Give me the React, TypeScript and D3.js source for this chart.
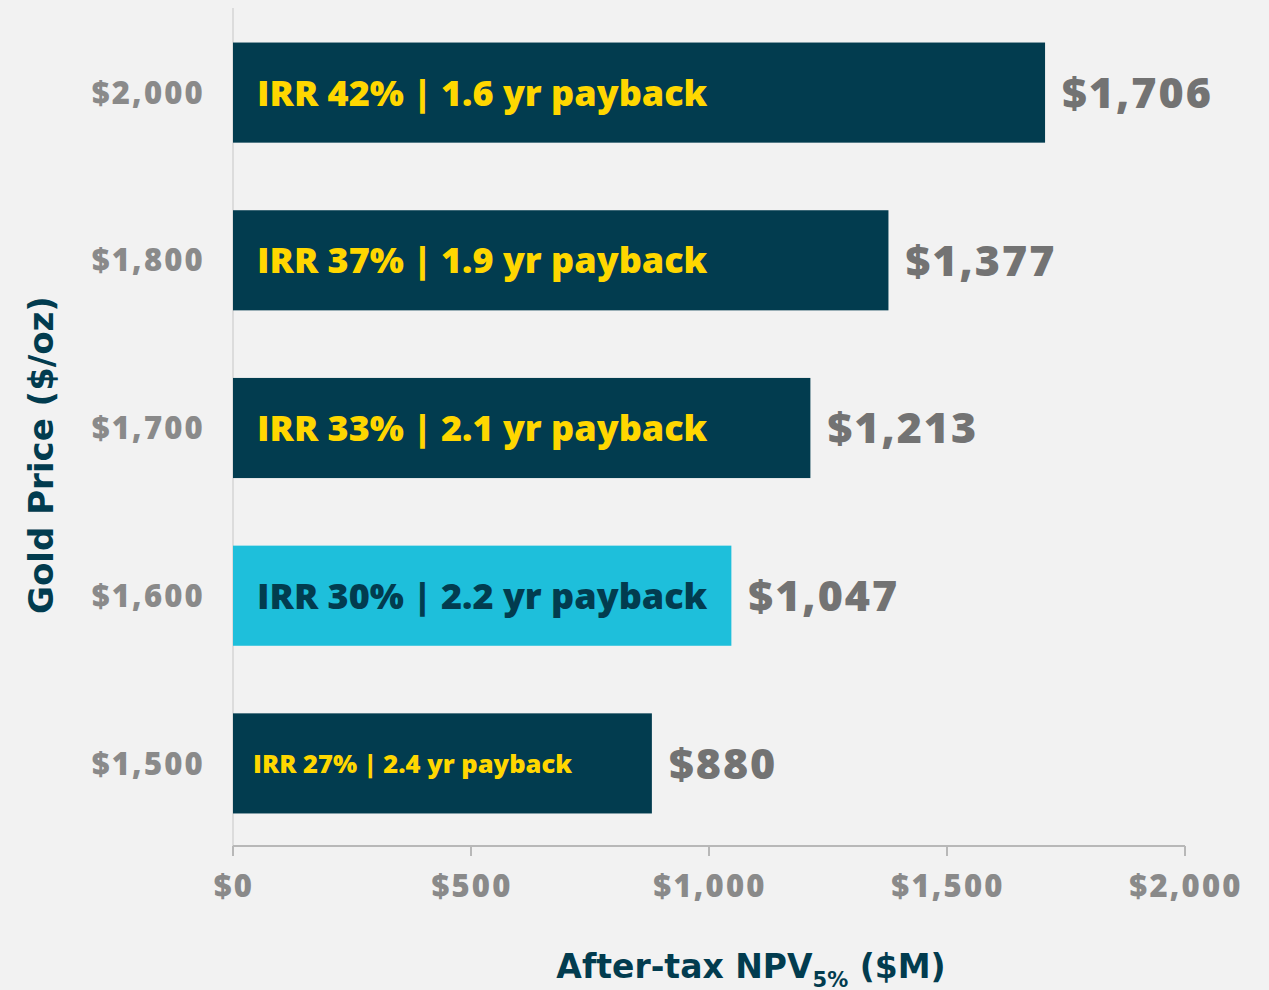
import React from "react";
import * as d3 from "d3";

const prices = ["$1,500", "$1,600", "$1,700", "$1,800", "$2,000"];
const npv = [880, 1047, 1213, 1377, 1706];
const irr = [27, 30, 33, 37, 42];
const payback = [2.4, 2.2, 2.1, 1.9, 1.6];
const highlight = ["$1,600"];
const xTicks = [0, 500, 1000, 1500, 2000];

const W = 1269;
const H = 990;
const margin = { left: 233, right: 84, top: 8, bottom: 144 };

export default function App() {
  const x = d3.scaleLinear().domain([0, 2000]).range([margin.left, W - margin.right]);
  const order = [...prices].reverse();
  const y = d3
    .scaleBand()
    .domain(order)
    .range([margin.top + 1, H - margin.bottom + 1])
    .paddingInner(0.403)
    .paddingOuter(0.2);
  const axisY = H - margin.bottom;
  const fmt = (v: number) => "$" + d3.format(",")(v);
  const labelFont = "'Open Sans', 'Noto Sans', sans-serif";
  const titleFont = "'DejaVu Sans', 'Liberation Sans', sans-serif";
  return (
    <svg width={W} height={H} style={{ position: "absolute", left: 0, top: 0, background: "#f2f2f2" }}>
      <rect x={0} y={0} width={W} height={H} fill="#f2f2f2" />
      <line x1={x(0)} x2={x(0)} y1={margin.top} y2={axisY} stroke="#dcdcdc" strokeWidth={2} />
      {prices.map((p, i) => {
        const by = y(p)!;
        const bh = y.bandwidth();
        const hi = highlight.includes(p);
        const small = i === 0;
        return (
          <g key={p}>
            <rect x={x(0)} y={by} width={x(npv[i]) - x(0)} height={bh} fill={hi ? "#1ebfdb" : "#023c4f"} />
            <text
              x={x(0) + (small ? 20 : 24)}
              y={by + bh / 2}
              dy="0.36em"
              fill={hi ? "#023c4f" : "#ffd700"}
              fontFamily={labelFont}
              fontWeight={800}
              fontSize={small ? 25.5 : 36}
            >
              {`IRR ${irr[i]}% | ${payback[i].toFixed(1)} yr payback`}
            </text>
            <text
              x={x(npv[i]) + 17}
              y={by + bh / 2}
              dy="0.36em"
              fill="#737373"
              fontFamily={labelFont}
              fontWeight={800}
              fontSize={43}
              letterSpacing={2}
            >
              {fmt(npv[i])}
            </text>
            <text
              x={x(0) - 28}
              y={by + bh / 2}
              dy="0.36em"
              textAnchor="end"
              fill="#8a8a8a"
              fontFamily={labelFont}
              fontWeight={800}
              fontSize={31}
              letterSpacing={2.2}
            >
              {p}
            </text>
          </g>
        );
      })}
      <line x1={x(0)} x2={x(2000)} y1={axisY} y2={axisY} stroke="#b8b8b8" strokeWidth={2} />
      {xTicks.map((t) => (
        <g key={t}>
          <line x1={x(t)} x2={x(t)} y1={axisY} y2={axisY + 10} stroke="#b8b8b8" strokeWidth={2} />
          <text
            x={x(t) + 1}
            y={axisY + 40}
            dy="0.36em"
            textAnchor="middle"
            fill="#8a8a8a"
            fontFamily={labelFont}
            fontWeight={800}
            fontSize={31}
            letterSpacing={2.2}
          >
            {fmt(t)}
          </text>
        </g>
      ))}
      <text
        x={751}
        y={978}
        textAnchor="middle"
        fill="#023c4f"
        fontFamily={titleFont}
        fontWeight={700}
        fontSize={33}
      >
        After-tax NPV
        <tspan fontSize={21} dy={9}>5%</tspan>
        <tspan dy={-9}> ($M)</tspan>
      </text>
      <text
        transform={`translate(53, 455) rotate(-90)`}
        textAnchor="middle"
        fill="#023c4f"
        fontFamily={titleFont}
        fontWeight={700}
        fontSize={34}
      >
        Gold Price ($/oz)
      </text>
    </svg>
  );
}
